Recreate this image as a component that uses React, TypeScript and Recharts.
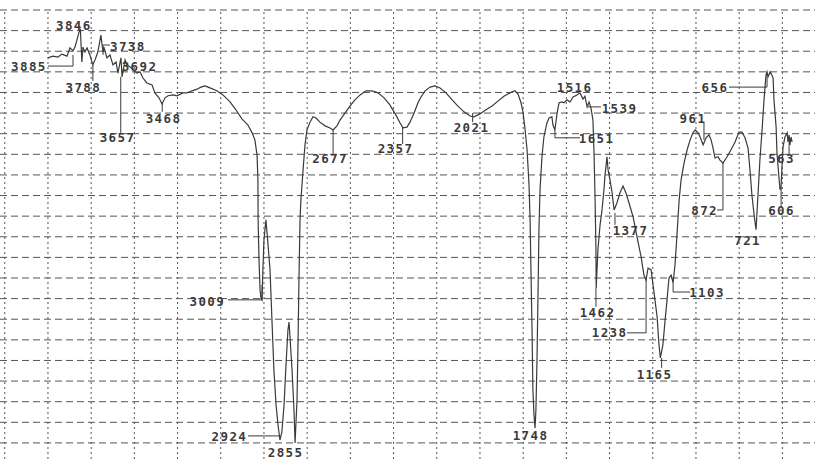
import React from 'react';
import { ComposedChart, Line, Scatter, XAxis, YAxis, ReferenceLine } from 'recharts';

// Spectrum: wavenumber (cm-1) and transmittance (arbitrary %, one grid row = 5)
const spectrumWn = [
  4000, 3977, 3954, 3935, 3912, 3898, 3884, 3875, 3866, 3856, 3850, 3843, 3838, 3829, 3819, 3806, 3792, 3782, 3769, 3755,
  3745, 3741, 3727, 3713, 3699, 3685, 3676, 3662, 3657, 3643, 3634, 3620, 3606, 3588, 3574, 3560, 3542, 3518, 3505, 3486,
  3472, 3458, 3444, 3421, 3403, 3375, 3356, 3333, 3310, 3292, 3273, 3250, 3218, 3190, 3157, 3130, 3102, 3074, 3055, 3042,
  3032, 3028, 3027, 3023, 3018, 3014, 3009, 3005, 3000, 2991, 2981, 2972, 2963, 2954, 2944, 2935, 2926, 2917, 2907, 2898,
  2889, 2884, 2880, 2870, 2861, 2856, 2847, 2842, 2838, 2833, 2829, 2819, 2810, 2801, 2787, 2773, 2759, 2741, 2717, 2694,
  2680, 2662, 2648, 2625, 2602, 2579, 2555, 2528, 2500, 2472, 2444, 2417, 2389, 2370, 2356, 2338, 2324, 2305, 2287, 2273,
  2254, 2231, 2208, 2185, 2157, 2129, 2102, 2074, 2046, 2028, 2000, 1972, 1944, 1917, 1889, 1861, 1838, 1824, 1810, 1801,
  1792, 1782, 1773, 1768, 1764, 1759, 1755, 1750, 1745, 1741, 1736, 1731, 1727, 1722, 1713, 1704, 1690, 1680, 1667, 1662,
  1653, 1643, 1634, 1620, 1611, 1597, 1583, 1569, 1551, 1537, 1523, 1514, 1504, 1495, 1486, 1477, 1472, 1467, 1463, 1462,
  1454, 1444, 1435, 1426, 1421, 1412, 1407, 1398, 1389, 1379, 1366, 1352, 1338, 1324, 1310, 1291, 1273, 1254, 1241, 1231,
  1222, 1208, 1194, 1180, 1172, 1165, 1153, 1143, 1134, 1125, 1115, 1106, 1097, 1088, 1078, 1069, 1055, 1041, 1027, 1014,
  1004, 990, 981, 967, 953, 940, 930, 921, 912, 898, 889, 875, 856, 838, 819, 801, 787, 773, 759, 750,
  741, 731, 722, 713, 704, 694, 685, 676, 671, 666, 657, 648, 643, 639, 629, 625, 616, 611, 606, 602,
  597, 588, 578, 574, 569, 565, 560, 555,
];
const spectrumT = [
  93.4, 93.8, 93.6, 94.3, 93.8, 95.8, 95.1, 96.0, 97.7, 99.7, 100.4, 92.4, 96.0, 94.8, 95.8, 94.1, 91.7, 92.9, 94.8, 98.9,
  94.8, 96.0, 93.4, 94.1, 91.7, 92.4, 89.7, 93.4, 88.8, 92.9, 91.7, 91.2, 90.5, 89.7, 90.0, 88.5, 87.3, 86.8, 84.9, 83.7,
  82.2, 83.7, 84.2, 84.4, 84.2, 84.9, 84.9, 85.4, 85.8, 86.3, 86.6, 86.1, 85.4, 84.4, 82.7, 80.8, 78.6, 77.1, 75.2, 73.5,
  69.8, 63.8, 54.1, 44.4, 37.1, 35.2, 34.7, 42.0, 49.2, 54.1, 48.0, 42.0, 29.8, 17.7, 9.2, 4.4, 0.7, 2.7, 9.2, 18.9,
  27.4, 29.3, 26.2, 17.7, 8.0, 0.0, 10.4, 25.0, 39.5, 54.1, 58.9, 66.2, 72.3, 75.9, 77.8, 79.1, 78.8, 77.8, 76.9, 76.4,
  75.9, 76.9, 78.3, 80.0, 81.7, 83.2, 84.4, 85.4, 85.4, 84.9, 83.7, 82.0, 79.5, 77.6, 76.4, 76.6, 77.8, 80.0, 82.5, 83.9,
  85.4, 86.3, 86.6, 86.1, 84.9, 83.2, 81.7, 80.3, 79.3, 79.1, 79.8, 80.8, 81.7, 82.9, 84.1, 84.9, 85.4, 84.6, 82.5, 80.3,
  76.4, 71.1, 62.6, 54.1, 42.0, 27.4, 12.9, 6.8, 3.6, 8.0, 20.1, 37.1, 51.7, 61.4, 69.4, 74.2, 77.6, 78.8, 79.1, 77.1,
  75.9, 80.0, 82.5, 82.7, 82.5, 83.2, 82.7, 83.9, 84.4, 84.9, 83.4, 84.1, 81.5, 82.7, 81.2, 78.3, 70.3, 58.9, 46.8, 37.6,
  46.8, 52.9, 56.5, 61.4, 65.0, 69.4, 66.2, 63.8, 60.9, 56.5, 58.2, 60.6, 62.3, 60.6, 58.2, 54.8, 50.0, 45.1, 40.7, 39.5,
  42.4, 42.0, 36.4, 30.6, 24.3, 20.6, 23.8, 29.8, 34.7, 40.0, 40.7, 38.8, 43.2, 50.4, 58.9, 63.8, 67.9, 71.1, 73.5, 75.2,
  75.9, 75.2, 74.2, 72.3, 74.0, 74.7, 73.5, 71.5, 69.1, 69.4, 68.6, 67.9, 69.4, 71.1, 73.0, 75.4, 75.4, 74.0, 71.5, 66.2,
  60.1, 55.3, 51.7, 60.1, 68.6, 75.9, 83.2, 89.2, 90.0, 88.8, 90.0, 89.2, 88.5, 83.2, 76.6, 70.3, 64.5, 61.4, 62.1, 66.9,
  71.8, 74.2, 75.2, 73.0, 74.7, 72.3, 74.2, 73.0,
];

// Peak annotations: label text, label centre (wavenumber, T)
const peakText = ['3885', '3846', '3788', '3738', '3692', '3657', '3468', '3009', '2924', '2855', '2677', '2357', '2021', '1748',
  '1651', '1516', '1539', '1462', '1377', '1238', '1165', '1103', '961', '872', '721', '656', '606', '563'];
const labelWn = [4088, 3880, 3836, 3630, 3576, 3678, 3465, 3262, 3160, 2900, 2694, 2391, 2039, 1766,
  1460, 1562, 1354, 1456, 1303, 1400, 1192, 949, 1014, 960, 761, 912, 604, 604];
const labelT = [91.2, 101.2, 86.3, 96.2, 91.2, 74.0, 78.8, 34.3, 1.6, -2.4, 69.1, 71.4, 76.4, 1.7,
  73.8, 86.2, 81.2, 31.6, 51.5, 26.7, 16.7, 36.6, 78.8, 56.4, 49.2, 86.2, 56.4, 68.9];

// Leader lines (wavenumber / T polylines)
const leaderWn = [
  [4000, 3884, 3884], [3792, 3792], [3745, 3745, 3713], [3663, 3663], [3471, 3471],
  [3167, 3009, 3009], [3074, 2926], [2680, 2680], [2358, 2358], [2034, 2034],
  [1653, 1653, 1537], [1500, 1440], [1463, 1463], [1375, 1375], [1231, 1231, 1319],
  [1159, 1159], [1106, 1106, 1027], [963, 963], [875, 875, 902], [847, 671, 671],
  [606, 606], [569, 569],
];
const leaderT = [
  [91.4, 91.4, 94.1], [91.7, 87.8], [94.1, 96.5, 96.5], [88.8, 75.2], [82.5, 80.3],
  [34.7, 34.7, 38.3], [1.7, 1.7], [75.9, 70.0], [76.6, 72.5], [80.0, 77.8],
  [75.9, 74.0, 74.0], [81.5, 81.5], [37.6, 33.0], [55.8, 52.9], [39.8, 26.7, 26.7],
  [20.6, 18.2], [38.8, 36.6, 36.6], [77.6, 73.5], [67.9, 56.5, 56.5], [86.3, 86.3, 89.5],
  [62.1, 57.5], [74.2, 69.8],
];

const xTicks = [600, 800, 1000, 1200, 1400, 1600, 1800, 2000, 2200, 2400, 2600, 2800, 3000, 3200, 3400, 3600, 3800, 4000, 4200];
const yTicks = [0, 5, 10, 15, 20, 25, 30, 35, 40, 45, 50, 55, 60, 65, 70, 75, 80, 85, 90, 95, 100, 105];

const spectrum = spectrumWn.map((wn, i) => ({ wn, t: spectrumT[i] }));
const labels = peakText.map((text, i) => ({ wn: labelWn[i], t: labelT[i], text }));
const leaders = leaderWn.map((ws, i) => ws.map((wn, j) => ({ wn, t: leaderT[i][j] })));

const LabelShape = (props: any) => {
  const { cx, cy, payload } = props;
  return (
    <text
      x={cx}
      y={cy}
      textAnchor="middle"
      dominantBaseline="central"
      fontFamily="'DejaVu Sans Mono', monospace"
      fontWeight="bold"
      fontSize={12.5}
      letterSpacing={1.4}
      fill="#3a3a3a"
    >
      {payload.text}
    </text>
  );
};

export default function App() {
  return (
    <div style={{ position: 'absolute', left: 0, top: 0, width: 815, height: 459, background: '#fff' }}>
      <ComposedChart width={815} height={459} margin={{ top: 10, right: 0, bottom: 0, left: 0 }}>
        <XAxis
          type="number"
          dataKey="wn"
          domain={[449, 4222]}
          reversed
          ticks={xTicks}
          allowDataOverflow
          tick={false}
          tickLine={false}
          axisLine={false}
          height={0}
        />
        <YAxis
          type="number"
          dataKey="t"
          domain={[-3.9, 105]}
          ticks={yTicks}
          allowDataOverflow
          tick={false}
          tickLine={false}
          axisLine={false}
          width={0}
        />
        {yTicks.map((v) => (
          <ReferenceLine key={'gy' + v} y={v} stroke="#555" strokeDasharray="7 4" ifOverflow="visible" />
        ))}
        {xTicks.map((v) => (
          <ReferenceLine key={'gx' + v} x={v} stroke="#555" strokeDasharray="2 3" ifOverflow="visible" />
        ))}
        {leaders.map((d, i) => (
          <Line
            key={'ld' + i}
            data={d}
            dataKey="t"
            type="linear"
            stroke="#3a3a3a"
            strokeWidth={1}
            dot={false}
            activeDot={false}
            isAnimationActive={false}
          />
        ))}
        <Line
          data={spectrum}
          dataKey="t"
          type="linear"
          stroke="#3a3a3a"
          strokeWidth={1.2}
          dot={false}
          activeDot={false}
          isAnimationActive={false}
        />
        <Scatter data={labels} dataKey="t" shape={LabelShape} isAnimationActive={false} />
      </ComposedChart>
    </div>
  );
}
